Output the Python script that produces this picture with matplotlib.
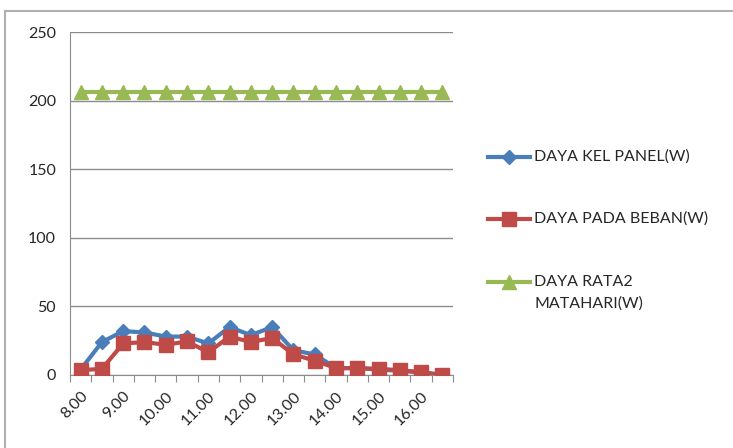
import matplotlib
matplotlib.use("Agg")
import matplotlib.pyplot as plt
from matplotlib.lines import Line2D
import numpy as np

# Half-hourly readings from 8.00 to 16.30
times = ["8.00", "8.30", "9.00", "9.30", "10.00", "10.30", "11.00", "11.30",
         "12.00", "12.30", "13.00", "13.30", "14.00", "14.30", "15.00", "15.30",
         "16.00", "16.30"]
daya_panel = [4, 24, 32, 31, 28, 28, 23, 35, 29, 35, 18, 15, 5, 5, 4, 3, 2, 0]
daya_beban = [3.5, 4.5, 23, 24, 22, 24.5, 16.5, 28, 24, 27, 15, 10.5, 5, 5, 4.5, 3.5, 2, 0]
daya_matahari = [206] * 18
series_names = ["DAYA KEL PANEL(W)", "DAYA PADA BEBAN(W)", "DAYA RATA2\nMATAHARI(W)"]
y_ticks = [0, 50, 100, 150, 200, 250]

c_blue = "#4A7EBB"
c_red = "#BE4B48"
c_green = "#98B954"
grid_c = "#8C8C8C"
txt_c = "#262626"

plt.rcParams['font.family'] = ['Lato', 'DejaVu Sans']

fig = plt.figure(figsize=(7.33, 4.48), dpi=100)
W, H = 733, 448
ax = fig.add_axes([70 / W, 1 - 375 / H, (453 - 70) / W, (375 - 32) / H])

x = np.arange(len(times))
ax.plot(x, daya_panel, color=c_blue, lw=3, marker="D", ms=7, zorder=3)
ax.plot(x, daya_beban, color=c_red, lw=3, marker="s", ms=10, zorder=4)
ax.plot(x, daya_matahari, color=c_green, lw=3, marker="^", ms=10, zorder=5)

ax.set_xlim(-0.5, len(times) - 0.5)
ax.set_ylim(0, 250)
ax.set_yticks(y_ticks)
ax.yaxis.grid(True, color=grid_c, lw=1)
ax.set_axisbelow(True)
ax.tick_params(axis="y", length=0, labelsize=11.5, pad=10, colors=txt_c)

# tick marks between categories, labels every hour
ax.set_xticks(np.arange(-0.5, len(times), 1.0))
ax.set_xticklabels([])
ax.tick_params(axis="x", which="major", length=5, direction="out", color=grid_c)
ax.set_xticks(x[::2], minor=True)
ax.set_xticklabels(times[::2], minor=True, rotation=45, ha="right",
                   va="top", rotation_mode="anchor", fontsize=11.5, color=txt_c)
ax.tick_params(axis="x", which="minor", length=0, pad=10)

for s in ["top", "right"]:
    ax.spines[s].set_visible(False)
ax.spines["left"].set_color(grid_c)
ax.spines["bottom"].set_color(grid_c)

# legend drawn at fixed spots to the right of the plot
entries = [(c_blue, "D", 7, 157), (c_red, "s", 10, 219), (c_green, "^", 10, 282)]
for (col, mk, ms, yp), name in zip(entries, series_names):
    yf = 1 - yp / H
    fig.add_artist(Line2D([488 / W, 530 / W], [yf, yf], color=col, lw=3,
                          transform=fig.transFigure))
    fig.add_artist(Line2D([509 / W], [yf], color=col, marker=mk, ms=ms,
                          transform=fig.transFigure))
    lines = name.split("\n")
    for i, ln in enumerate(lines):
        fig.text(534 / W, 1 - (yp + 22 * i) / H, ln, fontsize=11.5,
                 va="center", ha="left", color=txt_c)

# chart frame edges
fig.add_artist(Line2D([5 / W, 1], [1 - 11 / H, 1 - 11 / H], color="#B0B0B0", lw=1.5,
                      transform=fig.transFigure))
fig.add_artist(Line2D([5 / W, 5 / W], [0, 1 - 11 / H], color="#B0B0B0", lw=1.5,
                      transform=fig.transFigure))

fig.savefig("out.png", dpi=100)
